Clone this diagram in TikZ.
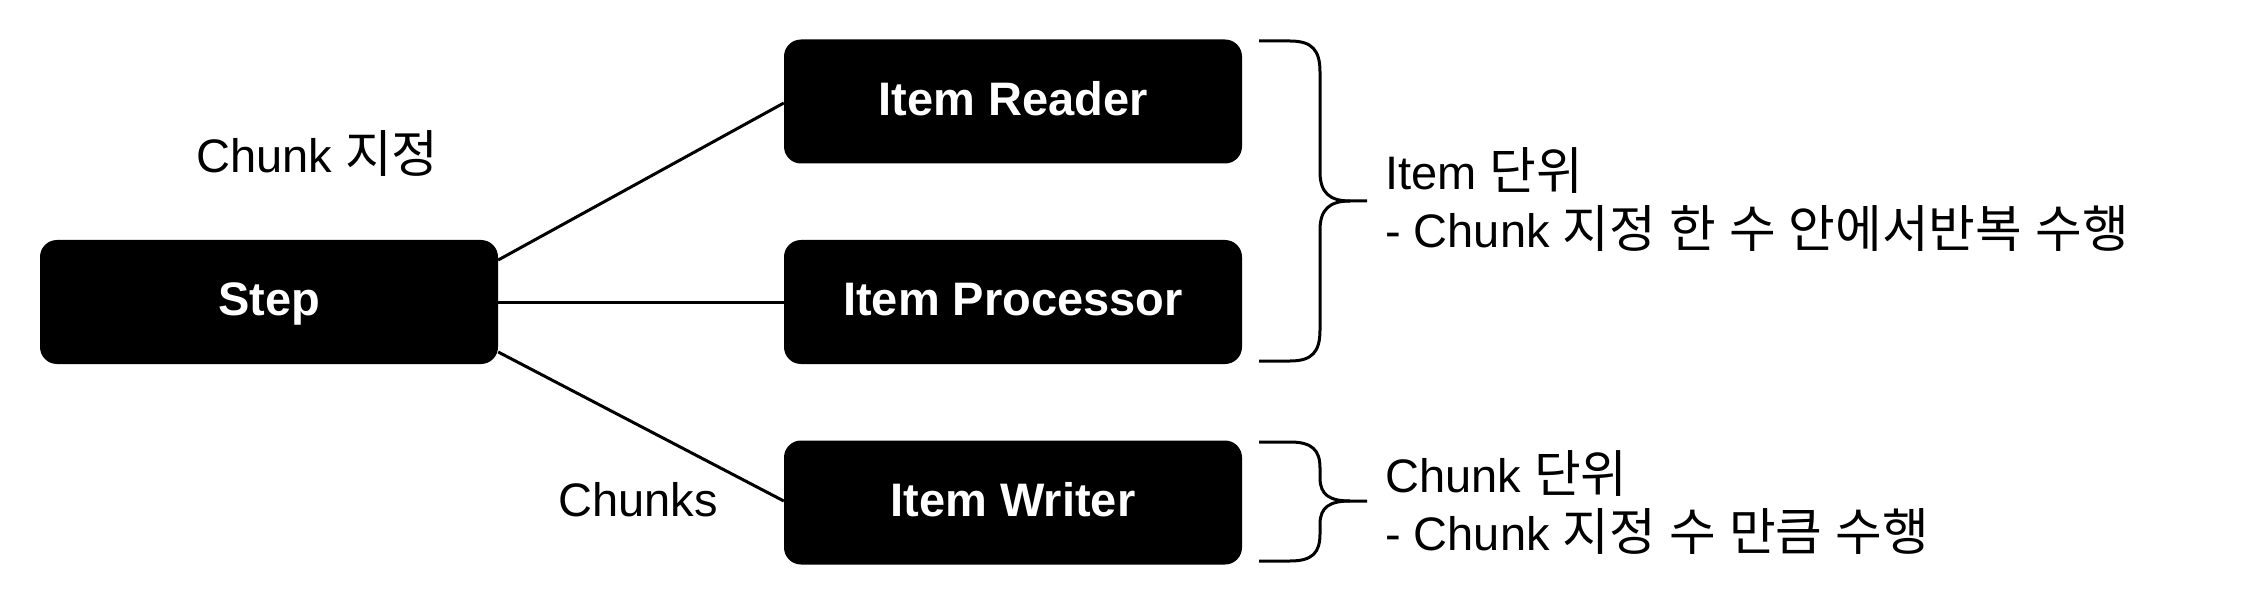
\documentclass[tikz,border=0pt]{standalone}
\usepackage{fontspec}
\setmainfont{Liberation Sans}
\newfontfamily\hgfont[Scale=1.08]{Noto Sans CJK KR}
\newcommand{\hg}[1]{{\hgfont #1}}
\begin{document}
\begin{tikzpicture}[x=1pt,y=-1pt,
  box/.style={fill=black, draw=none, rounded corners=17pt, minimum width=458pt, minimum height=124pt,
    text=white, font=\fontsize{47}{56}\selectfont\bfseries, inner sep=0pt, text height=37.6pt, text depth=10pt},
  conn/.style={line width=3pt, black},
  brace/.style={line width=3pt, black, line join=round},
  lbl/.style={font=\fontsize{47}{58}\selectfont, inner sep=0pt, align=left, anchor=west}]
\useasboundingbox (0,0) rectangle (2244,604);
\node[box] (step) at (269,302) {Step};
\node[box] (reader) at (1013,101.5) {Item Reader};
\node[box] (proc) at (1013,302) {Item Processor};
\node[box] (writer) at (1013,502.5) {Item Writer};
\draw[conn] (step.east |- 0,260) -- (reader.west |- 0,103);
\draw[conn] (step.east) -- (proc.west);
\draw[conn] (step.east |- 0,352) -- (writer.west |- 0,501);
\node[lbl] (chunkspec) at (196,153) {Chunk \hg{지정}};
\node[lbl] (chunks) at (558,500) {Chunks};
% braces
\draw[brace] (1259,41) -- (1290,41) .. controls (1312,41) and (1320,50) .. (1320,72) -- (1320,172)
  .. controls (1320,193) and (1330,201) .. (1350,201) -- (1367,201);
\draw[brace] (1350,201) .. controls (1330,201) and (1320,209) .. (1320,230) -- (1320,330)
  .. controls (1320,352) and (1312,361) .. (1290,361) -- (1259,361);
\draw[brace] (1259,442) -- (1290,442) .. controls (1312,442) and (1320,450) .. (1320,468) -- (1320,478)
  .. controls (1320,495) and (1330,501) .. (1350,501) -- (1367,501);
\draw[brace] (1350,501) .. controls (1330,501) and (1320,507) .. (1320,524) -- (1320,534)
  .. controls (1320,553) and (1312,561) .. (1290,561) -- (1259,561);
\node[lbl] (itemunit) at (1385,200) {Item \hg{단위}\\- Chunk \hg{지정} \hg{한} \hg{수} \hg{안에서반복} \hg{수행}};
\node[lbl] (chunkunit) at (1385,502) {Chunk \hg{단위}\\- Chunk \hg{지정} \hg{수} \hg{만큼} \hg{수행}};
\end{tikzpicture}
\end{document}
